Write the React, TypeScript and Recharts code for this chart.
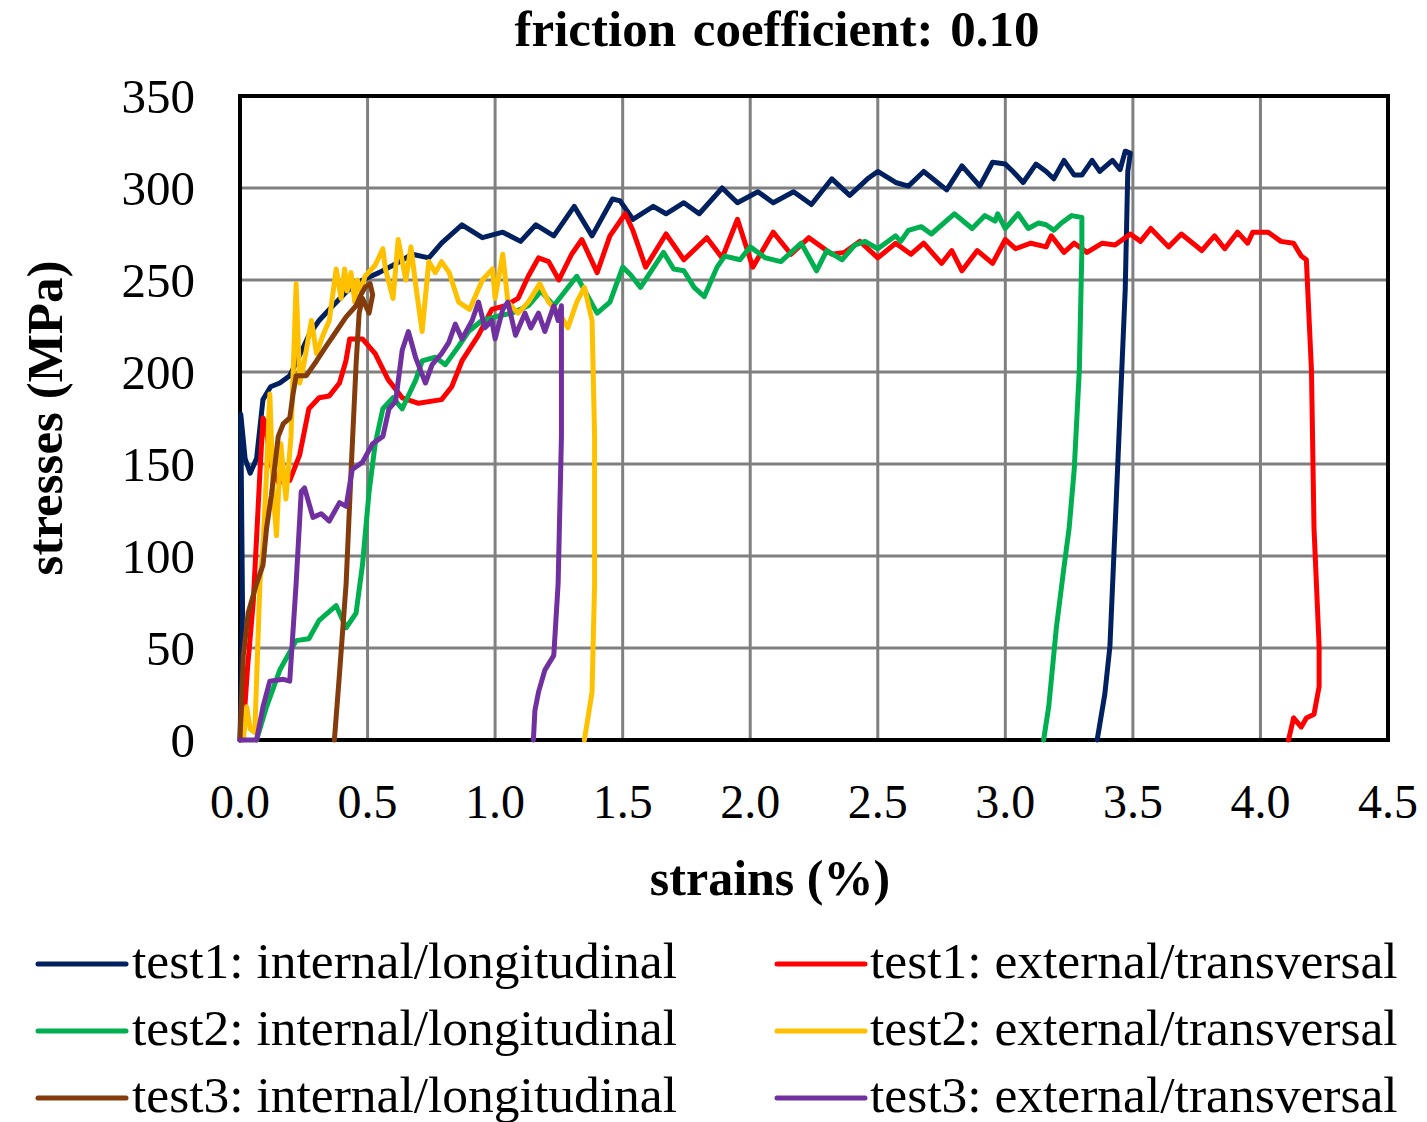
import { LineChart, Line, XAxis, YAxis, CartesianGrid, ReferenceArea } from "recharts"

const FONT = '"Liberation Serif", "Times New Roman", serif'

const seriesNames = [
  "test1: internal/longitudinal",
  "test1: external/transversal",
  "test2: internal/longitudinal",
  "test2: external/transversal",
  "test3: internal/longitudinal",
  "test3: external/transversal",
]
const seriesColors = ["#002060", "#FF0000", "#00B050", "#FFC000", "#843C0C", "#7030A0"]

const xTicks = [0, 0.5, 1, 1.5, 2, 2.5, 3, 3.5, 4, 4.5]
const yTicks = [0, 50, 100, 150, 200, 250, 300, 350]

// [strain %, stress MPa]
const test1Internal: [number, number][] = [
  [0, 0], [0.01, 70], [0.003, 177], [0.02, 153], [0.04, 145], [0.065, 153], [0.09, 185], [0.12, 192],
  [0.156, 194], [0.195, 198], [0.23, 208], [0.27, 220], [0.31, 228], [0.35, 234], [0.42, 244], [0.48, 250],
  [0.545, 254], [0.6, 258], [0.675, 264], [0.74, 262], [0.79, 270], [0.87, 280], [0.95, 273], [1.03, 276],
  [1.1, 271], [1.16, 280], [1.23, 274], [1.31, 290], [1.38, 274], [1.46, 294], [1.49, 293], [1.54, 283],
  [1.62, 290], [1.67, 286], [1.74, 292], [1.8, 286], [1.89, 300], [1.95, 292], [2.03, 298], [2.09, 292],
  [2.17, 298], [2.24, 291], [2.32, 305], [2.39, 296], [2.46, 305], [2.5, 309], [2.57, 303], [2.62, 301],
  [2.68, 309], [2.77, 299], [2.83, 312], [2.9, 301], [2.95, 314], [3.0, 313], [3.03, 309], [3.07, 303],
  [3.12, 313], [3.16, 309], [3.19, 305], [3.23, 315], [3.27, 307], [3.3, 307], [3.34, 315], [3.37, 309],
  [3.42, 315], [3.45, 310], [3.47, 320], [3.49, 319], [3.48, 309], [3.47, 245], [3.45, 180], [3.43, 115],
  [3.41, 51], [3.39, 25], [3.36, 0],
]

const test1External: [number, number][] = [
  [0, 0], [0.013, 6], [0.03, 40], [0.052, 75], [0.078, 145], [0.09, 175], [0.1, 172], [0.12, 150],
  [0.15, 140], [0.195, 141], [0.234, 155], [0.27, 180], [0.31, 186], [0.35, 187], [0.39, 194], [0.415, 206],
  [0.43, 218], [0.48, 218], [0.53, 210], [0.58, 196], [0.636, 186], [0.7, 183], [0.79, 185], [0.83, 192],
  [0.87, 206], [0.935, 220], [0.987, 234], [1.04, 236], [1.09, 240], [1.13, 252], [1.17, 262], [1.21, 260],
  [1.25, 250], [1.3, 264], [1.34, 272], [1.4, 254], [1.45, 274], [1.51, 286], [1.54, 277], [1.59, 257],
  [1.67, 275], [1.74, 261], [1.83, 273], [1.89, 262], [1.95, 283], [2.01, 257], [2.09, 276], [2.16, 264],
  [2.23, 273], [2.32, 264], [2.37, 265], [2.43, 271], [2.5, 262], [2.57, 270], [2.63, 264], [2.68, 270],
  [2.75, 259], [2.79, 266], [2.83, 255], [2.89, 266], [2.95, 259], [3.0, 272], [3.04, 267], [3.1, 270],
  [3.16, 268], [3.18, 274], [3.23, 265], [3.27, 270], [3.32, 265], [3.38, 270], [3.43, 269], [3.49, 275],
  [3.53, 271], [3.57, 278], [3.64, 268], [3.69, 275], [3.77, 266], [3.82, 274], [3.86, 267], [3.91, 276],
  [3.95, 270], [3.97, 276], [4.03, 276], [4.08, 271], [4.13, 270], [4.16, 263], [4.18, 261], [4.2, 201],
  [4.21, 115], [4.23, 51], [4.23, 29], [4.21, 14], [4.18, 12], [4.16, 7], [4.13, 12], [4.11, 0],
]

const test2Internal: [number, number][] = [
  [0.065, 0], [0.104, 18], [0.156, 38], [0.22, 54], [0.27, 55], [0.31, 65], [0.377, 73], [0.416, 61],
  [0.455, 69], [0.48, 95], [0.506, 135], [0.53, 161], [0.56, 180], [0.6, 186], [0.636, 180], [0.69, 196],
  [0.714, 206], [0.766, 208], [0.805, 204], [0.857, 214], [0.896, 222], [0.948, 228], [1.0, 230], [1.065, 232],
  [1.13, 236], [1.18, 244], [1.23, 236], [1.32, 252], [1.4, 232], [1.45, 238], [1.5, 257], [1.53, 253],
  [1.57, 246], [1.66, 265], [1.7, 256], [1.74, 255], [1.78, 246], [1.82, 241], [1.87, 257], [1.9, 263],
  [1.96, 261], [2.0, 268], [2.06, 262], [2.12, 260], [2.2, 270], [2.26, 255], [2.3, 266], [2.36, 261],
  [2.41, 269], [2.45, 271], [2.5, 267], [2.57, 274], [2.59, 271], [2.62, 277], [2.67, 279], [2.71, 275],
  [2.8, 286], [2.87, 278], [2.92, 285], [2.96, 282], [2.97, 286], [3.0, 278], [3.05, 286], [3.09, 278],
  [3.13, 281], [3.16, 280], [3.19, 277], [3.22, 281], [3.26, 285], [3.3, 284], [3.3, 266], [3.29, 201],
  [3.27, 147], [3.25, 115], [3.23, 94], [3.2, 61], [3.17, 18], [3.15, 0],
]

const test2External: [number, number][] = [
  [0.013, 0], [0.026, 18], [0.04, 6], [0.058, 4], [0.078, 85], [0.09, 105], [0.104, 145], [0.117, 188],
  [0.13, 135], [0.143, 111], [0.16, 161], [0.18, 131], [0.2, 165], [0.22, 248], [0.234, 194], [0.25, 204],
  [0.28, 228], [0.3, 210], [0.325, 220], [0.35, 228], [0.377, 256], [0.396, 240], [0.41, 256], [0.42, 244],
  [0.435, 254], [0.45, 238], [0.46, 250], [0.474, 244], [0.49, 252], [0.53, 258], [0.56, 267], [0.57, 256],
  [0.6, 240], [0.62, 272], [0.65, 250], [0.67, 268], [0.69, 246], [0.714, 222], [0.74, 260], [0.766, 254],
  [0.79, 260], [0.82, 254], [0.857, 238], [0.9, 234], [0.95, 250], [0.99, 256], [1.0, 240], [1.03, 264],
  [1.05, 238], [1.09, 232], [1.13, 238], [1.175, 248], [1.21, 238], [1.26, 230], [1.285, 224], [1.32, 238],
  [1.35, 246], [1.38, 228], [1.39, 165], [1.39, 85], [1.38, 26], [1.35, 0],
]

const test3Internal: [number, number][] = [
  [0, 0], [0.013, 46], [0.032, 69], [0.065, 85], [0.09, 95], [0.104, 115], [0.123, 133], [0.15, 165],
  [0.17, 172], [0.195, 175], [0.208, 188], [0.22, 198], [0.26, 198], [0.3, 206], [0.338, 214], [0.377, 222],
  [0.416, 230], [0.455, 236], [0.474, 242], [0.49, 246], [0.51, 248], [0.52, 242], [0.506, 232], [0.48, 240],
  [0.467, 232], [0.455, 204], [0.435, 145], [0.416, 85], [0.39, 36], [0.37, 0],
]

const test3External: [number, number][] = [
  [0, 0], [0.065, 0], [0.09, 18], [0.117, 32], [0.17, 33], [0.195, 32], [0.22, 85], [0.24, 135],
  [0.253, 137], [0.286, 121], [0.318, 123], [0.35, 119], [0.39, 129], [0.416, 127], [0.44, 147], [0.48, 151],
  [0.52, 161], [0.56, 165], [0.584, 180], [0.61, 184], [0.636, 212], [0.66, 222], [0.688, 208], [0.727, 194],
  [0.753, 204], [0.79, 210], [0.818, 216], [0.844, 226], [0.87, 218], [0.91, 228], [0.935, 238], [0.96, 224],
  [0.987, 228], [1.0, 218], [1.03, 234], [1.05, 238], [1.08, 220], [1.117, 232], [1.14, 224], [1.17, 232],
  [1.195, 222], [1.23, 236], [1.247, 228], [1.26, 236], [1.26, 165], [1.247, 85], [1.23, 46], [1.195, 38],
  [1.17, 26], [1.156, 16], [1.15, 0],
]

const seriesValues = [test1Internal, test1External, test2Internal, test2External, test3Internal, test3External]

export default function App() {
  return (
    <div style={{ position: "absolute", left: 0, top: 0, width: 1427, height: 1122, background: "#fff" }}>
      <LineChart width={1427} height={900} margin={{ top: 96, right: 39, bottom: 0, left: 0 }}>
        <CartesianGrid stroke="#808080" strokeWidth={3} />
        <XAxis
          dataKey="x"
          type="number"
          domain={[0, 4.5]}
          ticks={xTicks}
          interval={0}
          tickFormatter={(v: number) => v.toFixed(1)}
          tick={{ fontSize: 48, fill: "#000", fontFamily: FONT }}
          tickLine={false}
          axisLine={false}
          tickSize={0}
          tickMargin={44}
          height={160}
        />
        <YAxis
          type="number"
          domain={[0, 350]}
          ticks={yTicks}
          interval={0}
          tick={{ fontSize: 49, fill: "#000", fontFamily: FONT }}
          tickLine={false}
          axisLine={false}
          tickSize={0}
          tickMargin={45}
          width={240}
        />
        {seriesValues.map((pts, i) => (
          <Line
            key={seriesNames[i]}
            data={pts.map(([x, y]) => ({ x, y }))}
            dataKey="y"
            type="linear"
            stroke={seriesColors[i]}
            strokeWidth={5}
            strokeLinejoin="round"
            strokeLinecap="round"
            dot={false}
            activeDot={false}
            isAnimationActive={false}
          />
        ))}
        <ReferenceArea x1={0} x2={4.5} y1={0} y2={350} fill="none" stroke="#000" strokeWidth={4} ifOverflow="visible" />
      </LineChart>
      <svg width={1427} height={1122} style={{ position: "absolute", left: 0, top: 0, pointerEvents: "none" }}>
        <text x={777} y={46} textAnchor="middle" fontFamily={FONT} fontWeight="bold" fontSize={51} wordSpacing={4} fill="#000">
          friction coefficient: 0.10
        </text>
        <text x={770} y={895} textAnchor="middle" fontFamily={FONT} fontWeight="bold" fontSize={50} fill="#000">
          strains (%)
        </text>
        <text
          x={0}
          y={0}
          transform="translate(62 418) rotate(-90)"
          textAnchor="middle"
          fontFamily={FONT}
          fontWeight="bold"
          fontSize={51}
          fill="#000"
        >
          stresses (MPa)
        </text>
        {seriesNames.map((name, i) => {
          const col = i % 2
          const row = Math.floor(i / 2)
          const lx = col === 0 ? 38 : 777
          const tx = col === 0 ? 132 : 870
          const by = 978 + row * 67
          return (
            <g key={name}>
              <line x1={lx} x2={lx + 88} y1={by - 14} y2={by - 14} stroke={seriesColors[i]} strokeWidth={5} strokeLinecap="round" />
              <text x={tx} y={by} fontFamily={FONT} fontSize={51.5} fill="#000">
                {name}
              </text>
            </g>
          )
        })}
      </svg>
    </div>
  )
}
